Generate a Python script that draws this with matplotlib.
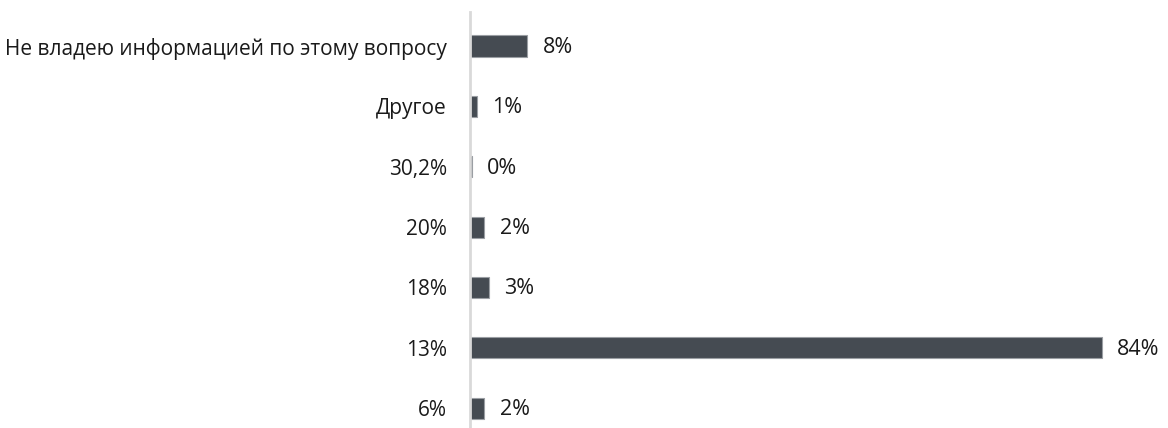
import matplotlib
matplotlib.use('Agg')
import matplotlib.pyplot as plt

categories = ['6%', '13%', '18%', '20%', '30,2%', 'Другое',
              'Не владею информацией по этому вопросу']
values = [1.9, 84, 2.5, 1.9, 0.2, 0.9, 7.6]
value_labels = ['2%', '84%', '3%', '2%', '0%', '1%', '8%']

BAR_COLOR = '#454b52'
EDGE_COLOR = '#9a9ea3'
AXIS_COLOR = '#d9d9d9'
TEXT_COLOR = '#1a1a1a'

plt.rcParams['font.family'] = ['Open Sans', 'DejaVu Sans']

fig = plt.figure(figsize=(11.68, 4.28), dpi=100)
ax = fig.add_axes([470 / 1168, 0.0, 698 / 1168, 1 - 12 / 428])

ypos = list(range(len(categories)))
ax.barh(ypos, values, height=0.35, color=BAR_COLOR, edgecolor=EDGE_COLOR, linewidth=0.8)

for y, v, lab in zip(ypos, values, value_labels):
    ax.annotate(lab, xy=(v, y), xytext=(11, -1), textcoords='offset points',
                ha='left', va='center', fontsize=15.5, color=TEXT_COLOR)

ax.set_xlim(0, 92.8)
ax.set_ylim(-0.33, 6.564)
ax.set_yticks(ypos)
ax.set_yticklabels(categories, fontsize=15, color=TEXT_COLOR)
ax.set_xticks([])
ax.tick_params(axis='y', length=0, pad=16.5)

for side in ['top', 'right', 'bottom']:
    ax.spines[side].set_visible(False)
ax.spines['left'].set_color(AXIS_COLOR)
ax.spines['left'].set_linewidth(2)

fig.savefig('out.png', dpi=100)
